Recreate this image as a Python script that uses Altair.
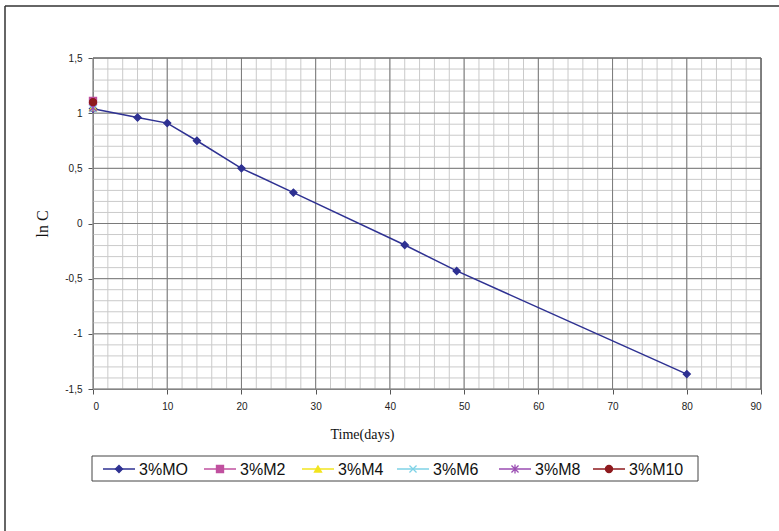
import altair as alt
import pandas as pd

series = ["3%MO", "3%M2", "3%M4", "3%M6", "3%M8", "3%M10"]
mo_time = [0, 6, 10, 14, 20, 27, 42, 49, 80]
mo_lnc = [1.04, 0.96, 0.91, 0.75, 0.50, 0.28, -0.195, -0.43, -1.365]
other_series = ["3%M2", "3%M4", "3%M6", "3%M8", "3%M10"]
other_time = [0, 0, 0, 0, 0]
other_lnc = [1.11, 1.05, 1.04, 1.05, 1.10]

x_major = list(range(0, 91, 10))
y_major = [-1.5, -1, -0.5, 0, 0.5, 1, 1.5]
x_minor = list(range(0, 91, 2))
y_minor = [round(-1.5 + 0.1 * i, 2) for i in range(31)]

colors = ["#2E3192", "#C0509F", "#F2E41F", "#7ED2E6", "#9A4DB2", "#8E1A1E"]
marker_paths = [
    "diamond",
    "square",
    "triangle-up",
    "M-1,-1L1,1M-1,1L1,-1",
    "M-1,-1L1,1M-1,1L1,-1M0,-1.3V1.3",
    "circle",
]
marker_of = dict(zip(series, marker_paths))
color_of = dict(zip(series, colors))

rows = [{"series": "3%MO", "time": t, "lnc": v} for t, v in zip(mo_time, mo_lnc)]
rows += [{"series": s, "time": t, "lnc": v} for s, t, v in zip(other_series, other_time, other_lnc)]
df = pd.DataFrame(rows)
df["marker"] = df["series"].map(marker_of)

xs = alt.Scale(domain=[0, 90], nice=False, zero=False)
ys = alt.Scale(domain=[-1.5, 1.5], nice=False, zero=False)
cs = alt.Scale(domain=series, range=colors)

x_axis = alt.Axis(values=x_major, grid=False, domainColor="#555555",
                  tickColor="#555555", tickSize=5, labelFont="Liberation Sans",
                  labelFontSize=10, labelColor="#222222", labelPadding=7,
                  title="Time(days)", titleFont="Liberation Serif", titleFontSize=14,
                  titleFontWeight="normal", titleColor="#111111",
                  titleX=269, titleY=49, titleBaseline="alphabetic", titleAlign="center")
y_axis = alt.Axis(values=y_major, grid=False, domainColor="#555555",
                  tickColor="#555555", tickSize=5, labelFont="Liberation Sans",
                  labelFontSize=10, labelColor="#222222", labelPadding=6,
                  labelExpr="replace(replace(format(datum.value, ''), '.', ','), '\u2212', '-')",
                  title="ln C", titleFont="Liberation Serif", titleFontSize=16,
                  titleFontWeight="normal", titleColor="#111111", titlePadding=14)


def vrules(values, color):
    return alt.Chart(pd.DataFrame({"v": values})).mark_rule(color=color, strokeWidth=1).encode(
        x=alt.X("v:Q", scale=xs, axis=x_axis))


def hrules(values, color):
    return alt.Chart(pd.DataFrame({"v": values})).mark_rule(color=color, strokeWidth=1).encode(
        y=alt.Y("v:Q", scale=ys, axis=y_axis))


base = alt.Chart(df)

lines = base.mark_line(strokeWidth=1.5).encode(
    x=alt.X("time:Q", scale=xs, axis=x_axis),
    y=alt.Y("lnc:Q", scale=ys, axis=y_axis),
    color=alt.Color("series:N", scale=cs, legend=None),
    detail="series:N",
)

points = base.mark_point(filled=True, size=50, strokeWidth=1.3, opacity=1).encode(
    x=alt.X("time:Q", scale=xs, axis=x_axis),
    y=alt.Y("lnc:Q", scale=ys, axis=y_axis),
    fill=alt.Fill("series:N", scale=cs, legend=None),
    stroke=alt.Stroke("series:N", scale=cs, legend=None),
    shape=alt.Shape("marker:N", scale=None, legend=None),
)

one_row = pd.DataFrame({"k": [0]})

# cover anything drawn past the right edge of the plot, then redraw the border
right_cover = alt.Chart(one_row).mark_rect(fill="white", strokeWidth=0).encode(
    x=alt.value(669), x2=alt.value(720), y=alt.value(-2), y2=alt.value(333))
right_border = alt.Chart(one_row).mark_rule(color="#555555", strokeWidth=1).encode(
    x=alt.value(668), y=alt.value(0), y2=alt.value(331))
top_border = alt.Chart(one_row).mark_rule(color="#666666", strokeWidth=1).encode(
    x=alt.value(0), x2=alt.value(668), y=alt.value(0))

# hand-drawn legend box (decoration, positioned relative to the plot area)
legend_box = alt.Chart(one_row).mark_rect(
    fill="white", stroke="#444444", strokeWidth=1).encode(
    x=alt.value(-1), x2=alt.value(605), y=alt.value(398), y2=alt.value(423))

legend_starts = [10, 111, 209, 304, 406, 500]
legend_y = 411
legend_layers = [legend_box]
for s, x0 in zip(series, legend_starts):
    one = pd.DataFrame({"series": [s]})
    c = color_of[s]
    legend_layers.append(alt.Chart(one).mark_rule(color=c, strokeWidth=1.5).encode(
        x=alt.value(x0), x2=alt.value(x0 + 32), y=alt.value(legend_y)))
    legend_layers.append(alt.Chart(one).mark_point(
        filled=True, fill=c, stroke=c, strokeWidth=1.3, size=50, opacity=1,
        shape=marker_of[s]).encode(x=alt.value(x0 + 16), y=alt.value(legend_y)))
    legend_layers.append(alt.Chart(one).mark_text(
        align="left", baseline="middle", font="Liberation Sans", fontSize=16,
        color="#111111").encode(x=alt.value(x0 + 36), y=alt.value(legend_y + 1),
                                text="series:N"))

frame = alt.Chart(one_row).mark_rule(color="#333333", strokeWidth=1.5).encode(
    x=alt.value(-88), y=alt.value(-52), y2=alt.value(480)
)
frame_top = alt.Chart(one_row).mark_rule(color="#333333", strokeWidth=1.5).encode(
    x=alt.value(-88), x2=alt.value(690), y=alt.value(-52)
)

chart = alt.layer(
    vrules(x_minor, "#CACACA"), hrules(y_minor, "#CACACA"),
    vrules(x_major, "#7A7A7A"), hrules(y_major, "#7A7A7A"),
    lines, points, right_cover, right_border, top_border,
    frame, frame_top, *legend_layers,
).properties(
    width=668, height=331,
    autosize=alt.AutoSizeParams(type="none"),
    padding={"left": 93, "top": 58, "right": 18, "bottom": 142},
).configure_view(stroke="#555555", strokeWidth=1).configure(background="white")

chart.save("out.html", embed_options={"renderer": "svg", "actions": False})
